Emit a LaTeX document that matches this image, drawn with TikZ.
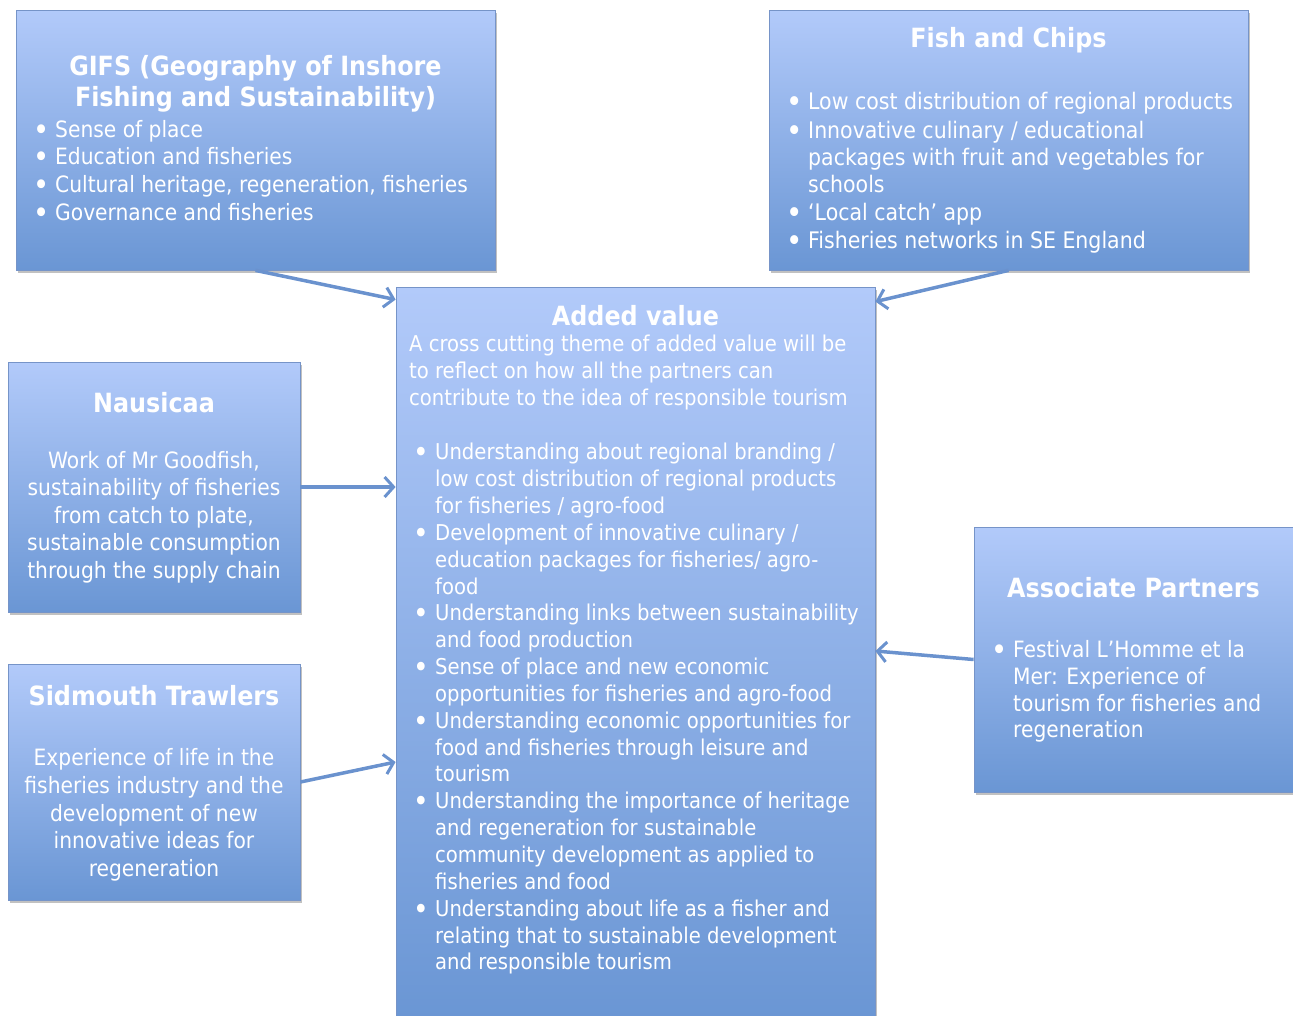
\documentclass[tikz,border=0pt]{standalone}
\usepackage{fontspec}
\setmainfont{DejaVu Sans Condensed}
\usepackage{tikz}
\tikzset{>=latex}
\usetikzlibrary{calc,arrows.meta,shadows,positioning}

\definecolor{boxtop}{RGB}{178,202,250}
\definecolor{boxbot}{RGB}{106,150,212}
\definecolor{boxline}{RGB}{118,148,200}
\definecolor{linkcol}{RGB}{106,146,206}

\newlength{\bulw}
\setlength{\bulw}{22pt}
\newcommand{\bul}{\makebox[\bulw][l]{\raisebox{-3pt}{\scalebox{1.35}{•}}}}
\newcommand{\ind}{\hspace*{\bulw}}

\tikzset{
  panel/.style={draw=boxline, line width=0.8pt, top color=boxtop, bottom color=boxbot,
    drop shadow={shadow xshift=1.5pt, shadow yshift=-3pt, opacity=0.35, fill=black!70},
    inner sep=0pt},
  head/.style={text=white, align=center, inner sep=0pt,
    font=\fontsize{26.5}{31}\selectfont\bfseries},
  body/.style={text=white, inner sep=0pt,
    font=\fontsize{22.5}{26.85}\selectfont},
  link/.style={line width=3.5pt, draw=linkcol,
    -{Straight Barb[length=9pt,width=20pt,line width=3pt]}}
}

\begin{document}
\begin{tikzpicture}[x=1pt,y=-1pt]
  \useasboundingbox (0,0) rectangle (1293,1015);

  % boxes
  \node[panel, minimum width=479, minimum height=260] (gifs) at (255.5,140) {};
  \node[panel, minimum width=479, minimum height=260] (fish) at (1008.5,140) {};
  \node[panel, minimum width=479, minimum height=733] (added) at (635.5,653.5) {};
  \node[panel, minimum width=292, minimum height=250] (naus) at (154,487) {};
  \node[panel, minimum width=292, minimum height=236] (sid) at (154,782) {};
  \node[panel, minimum width=319, minimum height=265] (assoc) at (1133.5,659.5) {};

  % GIFS
  \node[head] (gifst) at (255.5,84) {GIFS (Geography of Inshore\\Fishing and Sustainability)};
  \node[body, align=left, anchor=north west, font=\fontsize{22.5}{27.7}\selectfont] (gifsb) at (33,120) {%
    \bul Sense of place\\
    \bul Education and fisheries\\
    \bul Cultural heritage, regeneration, fisheries\\
    \bul Governance and fisheries};

  % Fish and Chips
  \node[head] (fisht) at (1008.5,40) {Fish and Chips};
  \node[body, align=left, anchor=north west, font=\fontsize{22.8}{26.85}\selectfont] (fishb) at (786,92) {%
    \bul Low cost distribution of regional products\\[2pt]
    \bul Innovative culinary / educational\\
    \ind packages with fruit and vegetables for\\
    \ind schools\\[2pt]
    \bul `Local catch’ app\\[1pt]
    \bul Fisheries networks in SE England};

  % Added value
  \node[head] (addedt) at (635.5,316) {Added value};
  \node[body, align=left, anchor=north west, font=\fontsize{21.8}{26.85}\selectfont] (addedp) at (409,335) {%
    A cross cutting theme of added value will be\\
    to reflect on how all the partners can\\
    contribute to the idea of responsible tourism};
  \node[body, align=left, anchor=north west, font=\fontsize{21.8}{26.85}\selectfont] (addedb) at (413,443) {%
    \bul Understanding about regional branding /\\
    \ind low cost distribution of regional products\\
    \ind for fisheries / agro-food\\
    \bul Development of innovative culinary /\\
    \ind education packages for fisheries/ agro-\\
    \ind food\\
    \bul Understanding links between sustainability\\
    \ind and food production\\
    \bul Sense of place and new economic\\
    \ind opportunities for fisheries and agro-food\\
    \bul Understanding economic opportunities for\\
    \ind food and fisheries through leisure and\\
    \ind tourism\\
    \bul Understanding the importance of heritage\\
    \ind and regeneration for sustainable\\
    \ind community development as applied to\\
    \ind fisheries and food\\
    \bul Understanding about life as a fisher and\\
    \ind relating that to sustainable development\\
    \ind and responsible tourism};

  % Nausicaa
  \node[head] (nausht) at (154,403) {Nausicaa};
  \node[body, align=center, font=\fontsize{22.5}{27.5}\selectfont] (nausb) at (154,517) {%
    Work of Mr Goodfish,\\
    sustainability of fisheries\\
    from catch to plate,\\
    sustainable consumption\\
    through the supply chain};

  % Sidmouth Trawlers
  \node[head] (sidt) at (154,696) {Sidmouth Trawlers};
  \node[body, align=center, font=\fontsize{22.5}{27.7}\selectfont] (sidb) at (154,815) {%
    Experience of life in the\\
    fisheries industry and the\\
    development of new\\
    innovative ideas for\\
    regeneration};

  % Associate Partners
  \node[head] (assoct) at (1133.5,588) {Associate Partners};
  \node[body, align=left, anchor=north west] (assocb) at (991,640) {%
    \bul Festival L’Homme et la\\
    \ind Mer: Experience of\\
    \ind tourism for fisheries and\\
    \ind regeneration};

  % connectors
  \coordinate (gifsend) at ([yshift=-13pt]added.north west);
  \coordinate (fishend) at ([yshift=-15pt]added.north east);
  \coordinate (sidend) at (added.west |- 0,762);
  \coordinate (assocend) at (added.east |- 0,651);
  \draw[link] (gifs.south) -- (gifsend);
  \draw[link] (fish.south) -- (fishend);
  \draw[link] (naus.east) -- (naus.east -| added.west);
  \draw[link] (sid.east) -- (sidend);
  \draw[link] (assoc.west) -- (assocend);
\end{tikzpicture}
\end{document}
